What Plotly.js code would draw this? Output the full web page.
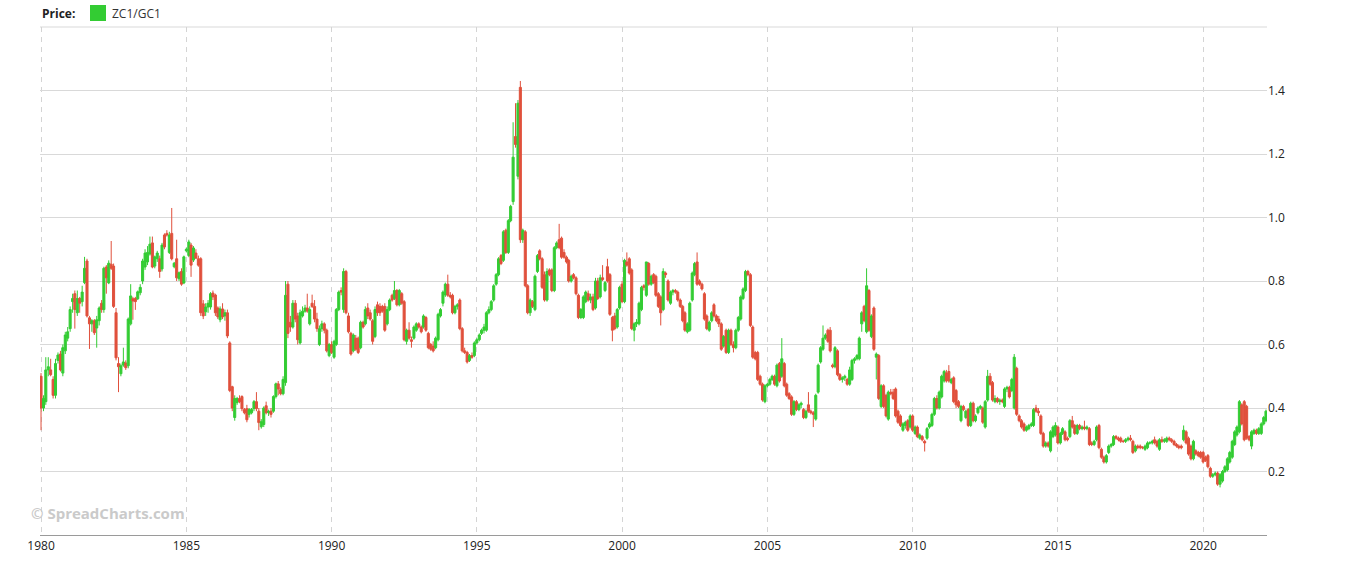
<!DOCTYPE html>
<html>
<head>
<meta charset="utf-8">
<script src="https://cdn.plot.ly/plotly-3.0.1.min.js"></script>
<style>
html,body{margin:0;padding:0;background:#fff;}
#chart{width:1350px;height:564px;}
</style>
</head>
<body>
<div id="chart"></div>
<script>
// Monthly candles of the ZC1/GC1 ratio, Jan 1980 .. Mar 2022 (one row per year)
const startYear = 1980;
const seriesName = "ZC1/GC1";
const xTickYears = [1980,1985,1990,1995,2000,2005,2010,2015,2020];
const yTicks = [0.2,0.4,0.6,0.8,1.0,1.2,1.4];

const open = [
.50,.40,.42,.52,.52,.49,.44,.55,.57,.51,.58,.62,
.65,.735,.76,.70,.745,.735,.795,.863,.684,.665,.675,.652,
.675,.73,.71,.844,.794,.853,.847,.70,.54,.508,.535,.542,
.533,.665,.744,.745,.744,.763,.80,.844,.86,.885,.92,.847,
.87,.87,.838,.945,.95,.89,.95,.845,.87,.807,.83,.794,
.895,.88,.913,.866,.888,.87,.87,.728,.703,.718,.718,.762,
.756,.715,.678,.712,.69,.70,.605,.467,.37,.417,.43,.436,
.395,.398,.38,.385,.398,.42,.39,.341,.348,.407,.385,.39,
.39,.436,.476,.458,.445,.48,.79,.67,.655,.73,.69,.605,
.69,.705,.715,.665,.73,.72,.68,.60,.65,.665,.645,.565,
.60,.56,.60,.71,.77,.71,.83,.69,.635,.58,.62,.62,
.59,.67,.665,.715,.70,.675,.625,.725,.72,.72,.72,.665,
.71,.755,.745,.77,.725,.76,.735,.61,.645,.615,.62,.645,
.665,.655,.655,.685,.635,.60,.595,.59,.615,.69,.73,.756,
.79,.755,.755,.70,.72,.74,.65,.58,.575,.55,.565,.565,
.605,.615,.635,.645,.645,.70,.71,.74,.79,.82,.88,.865,
.96,.89,.99,1.05,1.255,1.13,1.41,.93,.955,.785,.70,.735,
.71,.83,.895,.87,.82,.74,.835,.835,.77,.905,.93,.935,
.89,.875,.865,.80,.82,.81,.755,.685,.685,.735,.76,.74,
.75,.715,.80,.75,.81,.77,.845,.82,.685,.69,.655,.715,
.79,.735,.86,.87,.835,.645,.665,.665,.71,.785,.755,.855,
.79,.82,.815,.76,.75,.71,.825,.80,.73,.765,.77,.765,
.74,.72,.70,.64,.645,.74,.82,.86,.80,.79,.76,.69,
.645,.675,.725,.69,.68,.665,.595,.645,.575,.645,.60,.59,
.645,.68,.745,.77,.83,.82,.655,.575,.575,.50,.475,.42,
.47,.475,.49,.50,.47,.54,.50,.54,.475,.445,.435,.38,
.42,.395,.41,.395,.37,.41,.39,.385,.365,.45,.545,.585,
.62,.645,.645,.535,.53,.58,.505,.49,.495,.49,.475,.49,
.55,.555,.555,.665,.72,.64,.77,.625,.715,.56,.565,.405,
.47,.44,.365,.45,.45,.46,.39,.375,.33,.345,.36,.34,
.375,.32,.34,.305,.31,.295,.305,.34,.345,.38,.43,.40,
.435,.485,.51,.515,.48,.495,.455,.42,.36,.405,.37,.395,
.345,.415,.36,.385,.40,.40,.34,.425,.50,.48,.42,.43,
.42,.425,.405,.46,.465,.455,.40,.525,.375,.36,.35,.33,
.335,.345,.345,.40,.39,.375,.32,.28,.29,.265,.31,.315,
.34,.29,.32,.325,.305,.31,.36,.345,.32,.345,.335,.34,
.335,.335,.29,.285,.30,.345,.27,.245,.23,.26,.28,.285,
.31,.305,.305,.295,.295,.30,.305,.295,.265,.28,.28,.275,
.27,.275,.29,.29,.30,.295,.27,.30,.295,.295,.305,.30,
.295,.285,.28,.28,.30,.325,.305,.28,.24,.265,.26,.26,
.26,.245,.25,.21,.185,.19,.195,.16,.17,.20,.205,.23,
.245,.285,.315,.325,.41,.42,.405,.31,.28,.32,.33,.32,
.32,.35,.36
];

const high = [
.51,.44,.56,.56,.555,.50,.555,.575,.58,.60,.64,.655,
.72,.76,.77,.77,.75,.785,.876,.87,.69,.68,.68,.69,
.72,.74,.845,.85,.865,.926,.855,.715,.56,.54,.59,.55,
.685,.79,.75,.75,.77,.79,.87,.90,.91,.94,.94,.88,
.895,.88,.92,.95,.96,.955,1.03,.86,.93,.83,.84,.88,
.905,.93,.92,.91,.90,.88,.875,.74,.73,.74,.765,.77,
.76,.72,.72,.73,.71,.71,.61,.47,.44,.435,.44,.44,
.40,.41,.40,.40,.425,.45,.40,.365,.405,.42,.395,.40,
.44,.48,.485,.465,.50,.80,.80,.69,.74,.74,.70,.71,
.72,.725,.76,.72,.757,.74,.70,.66,.675,.67,.65,.605,
.61,.615,.715,.77,.78,.84,.835,.70,.64,.635,.63,.625,
.675,.675,.72,.73,.71,.68,.72,.735,.73,.725,.73,.72,
.745,.76,.80,.775,.775,.765,.74,.65,.67,.625,.66,.67,
.67,.66,.695,.69,.64,.605,.61,.625,.70,.715,.77,.795,
.82,.765,.76,.725,.73,.745,.655,.59,.58,.57,.575,.61,
.62,.635,.65,.665,.705,.72,.74,.79,.825,.875,.885,.96,
.965,.995,1.04,1.30,1.36,1.37,1.43,.965,.96,.79,.745,.74,
.82,.885,.90,.875,.83,.84,.84,.84,.91,.925,.98,.94,
.90,.88,.87,.82,.825,.815,.76,.715,.755,.77,.77,.76,
.76,.81,.81,.82,.85,.80,.87,.825,.69,.70,.715,.785,
.80,.87,.89,.875,.84,.67,.68,.735,.785,.79,.86,.86,
.82,.825,.82,.765,.755,.84,.83,.805,.77,.775,.775,.77,
.745,.725,.705,.67,.735,.83,.86,.89,.805,.795,.765,.695,
.675,.705,.73,.695,.69,.67,.63,.65,.65,.65,.61,.65,
.69,.755,.78,.835,.835,.825,.66,.58,.58,.505,.48,.475,
.48,.495,.505,.505,.54,.545,.62,.545,.48,.45,.44,.425,
.425,.415,.42,.40,.395,.45,.395,.39,.445,.54,.595,.66,
.635,.65,.655,.54,.595,.585,.51,.50,.505,.495,.53,.555,
.56,.57,.625,.705,.725,.84,.775,.695,.72,.575,.57,.475,
.475,.445,.455,.46,.46,.465,.395,.38,.355,.36,.365,.38,
.38,.345,.345,.32,.315,.30,.34,.355,.385,.435,.44,.455,
.505,.52,.52,.535,.495,.50,.46,.425,.41,.41,.395,.40,
.42,.42,.38,.405,.41,.405,.425,.52,.51,.485,.44,.435,
.43,.43,.465,.47,.47,.495,.57,.53,.38,.365,.355,.345,
.35,.355,.40,.41,.40,.38,.325,.295,.295,.33,.345,.355,
.345,.325,.34,.33,.31,.365,.375,.35,.35,.35,.345,.36,
.345,.34,.295,.30,.345,.35,.275,.25,.255,.285,.29,.315,
.315,.31,.31,.30,.305,.31,.315,.30,.285,.285,.285,.28,
.285,.295,.295,.30,.31,.30,.305,.31,.305,.31,.31,.305,
.30,.29,.285,.285,.345,.33,.31,.285,.30,.27,.265,.265,
.265,.25,.255,.215,.195,.20,.20,.195,.205,.22,.245,.265,
.30,.33,.345,.425,.415,.425,.41,.315,.33,.335,.335,.34,
.355,.375,.395
];

const low = [
.33,.39,.41,.50,.50,.43,.43,.54,.515,.50,.57,.61,
.64,.70,.65,.69,.70,.72,.79,.685,.586,.64,.63,.59,
.66,.70,.70,.76,.79,.835,.715,.55,.45,.50,.53,.52,
.525,.66,.678,.709,.74,.755,.79,.835,.85,.88,.84,.84,
.86,.81,.83,.90,.94,.885,.865,.84,.80,.80,.785,.79,
.89,.875,.813,.86,.87,.845,.69,.68,.69,.70,.71,.74,
.69,.68,.67,.68,.675,.62,.45,.39,.36,.41,.415,.39,
.38,.355,.37,.38,.39,.39,.33,.335,.34,.38,.375,.37,
.385,.43,.44,.44,.44,.47,.62,.64,.65,.67,.60,.60,
.685,.70,.70,.66,.715,.67,.64,.595,.64,.635,.575,.56,
.57,.555,.595,.705,.755,.70,.695,.635,.565,.575,.58,.57,
.585,.65,.66,.68,.675,.60,.62,.69,.69,.70,.64,.66,
.705,.735,.74,.72,.72,.725,.61,.60,.615,.59,.615,.64,
.65,.635,.65,.64,.585,.58,.575,.585,.61,.685,.72,.75,
.75,.745,.695,.695,.71,.645,.575,.57,.54,.545,.555,.56,
.60,.61,.63,.635,.64,.695,.705,.735,.785,.815,.85,.86,
.885,.885,.985,1.04,1.22,1.12,.92,.92,.78,.695,.69,.715,
.705,.825,.865,.775,.735,.735,.815,.765,.765,.90,.90,.87,
.87,.855,.795,.795,.805,.755,.68,.68,.68,.73,.735,.73,
.705,.71,.74,.745,.80,.765,.795,.69,.61,.645,.65,.71,
.73,.73,.845,.82,.645,.61,.655,.66,.705,.77,.75,.785,
.785,.79,.75,.715,.66,.705,.81,.735,.725,.755,.76,.735,
.715,.67,.64,.635,.64,.735,.815,.785,.785,.77,.675,.645,
.64,.67,.685,.67,.655,.58,.59,.57,.57,.595,.575,.585,
.64,.675,.74,.765,.815,.655,.555,.55,.485,.47,.42,.415,
.465,.47,.485,.47,.465,.48,.495,.465,.435,.425,.375,.375,
.39,.39,.40,.365,.365,.385,.38,.34,.36,.445,.54,.58,
.615,.605,.575,.525,.525,.50,.485,.48,.485,.47,.47,.485,
.54,.55,.55,.64,.67,.635,.64,.62,.58,.49,.425,.40,
.40,.37,.36,.44,.425,.37,.35,.34,.325,.335,.325,.335,
.325,.315,.305,.30,.295,.263,.30,.335,.34,.375,.395,.395,
.43,.48,.48,.48,.475,.415,.40,.40,.355,.39,.365,.34,
.34,.355,.355,.38,.395,.35,.335,.42,.47,.42,.415,.415,
.41,.415,.40,.45,.43,.45,.395,.375,.355,.335,.325,.325,
.33,.34,.34,.385,.375,.315,.275,.275,.275,.26,.305,.31,
.285,.285,.315,.295,.295,.305,.335,.315,.315,.33,.33,.33,
.33,.28,.28,.28,.295,.27,.24,.225,.225,.255,.275,.28,
.30,.295,.29,.29,.29,.295,.295,.255,.26,.27,.27,.27,
.265,.27,.285,.285,.285,.275,.265,.29,.29,.29,.295,.29,
.28,.275,.27,.27,.295,.285,.25,.235,.235,.25,.245,.24,
.225,.23,.21,.18,.18,.185,.155,.15,.165,.195,.20,.225,
.24,.28,.31,.32,.345,.295,.30,.295,.27,.315,.315,.315,
.315,.345,.355
];

const close = [
.40,.43,.52,.53,.505,.44,.54,.567,.52,.59,.63,.64,
.71,.745,.71,.745,.73,.765,.84,.69,.665,.675,.637,.678,
.715,.71,.84,.81,.856,.84,.72,.558,.53,.533,.545,.527,
.68,.753,.737,.735,.766,.78,.863,.888,.89,.916,.844,.876,
.888,.83,.913,.907,.945,.945,.87,.856,.81,.826,.79,.876,
.90,.923,.85,.904,.872,.85,.70,.69,.718,.73,.76,.75,
.70,.687,.712,.687,.70,.627,.455,.40,.43,.43,.42,.398,
.385,.363,.395,.395,.42,.398,.354,.357,.40,.385,.39,.38,
.436,.476,.46,.445,.49,.755,.635,.655,.73,.68,.615,.70,
.705,.715,.705,.71,.72,.68,.65,.65,.665,.645,.58,.60,
.575,.61,.71,.765,.765,.83,.70,.64,.57,.63,.585,.575,
.67,.655,.71,.69,.68,.61,.71,.70,.70,.705,.645,.71,
.74,.74,.77,.725,.77,.73,.615,.645,.62,.61,.655,.665,
.655,.64,.69,.645,.59,.585,.58,.62,.695,.71,.765,.79,
.755,.75,.70,.72,.725,.65,.58,.575,.545,.565,.56,.605,
.615,.63,.645,.655,.70,.71,.735,.785,.82,.87,.855,.955,
.89,.99,1.035,1.19,1.23,1.36,.93,.96,.785,.70,.74,.72,
.815,.88,.87,.78,.74,.83,.82,.77,.905,.92,.905,.875,
.875,.86,.80,.815,.81,.76,.685,.71,.75,.765,.74,.75,
.71,.80,.745,.81,.805,.795,.80,.695,.645,.65,.71,.78,
.735,.865,.85,.825,.65,.665,.67,.73,.78,.78,.86,.79,
.815,.795,.755,.72,.70,.83,.82,.74,.765,.77,.765,.74,
.72,.675,.645,.665,.73,.825,.855,.79,.79,.775,.68,.65,
.67,.70,.69,.675,.665,.585,.625,.575,.645,.60,.59,.645,
.685,.75,.775,.83,.82,.66,.56,.555,.49,.475,.425,.47,
.475,.49,.50,.475,.535,.485,.555,.47,.44,.43,.38,.42,
.395,.41,.415,.37,.39,.39,.385,.38,.44,.535,.59,.62,
.63,.61,.58,.53,.59,.505,.49,.495,.50,.475,.52,.55,
.555,.565,.62,.70,.675,.785,.645,.69,.585,.57,.43,.47,
.405,.375,.45,.445,.43,.375,.355,.345,.35,.355,.33,.375,
.33,.34,.31,.315,.30,.29,.335,.35,.38,.43,.40,.45,
.50,.515,.485,.485,.49,.42,.41,.405,.405,.395,.39,.345,
.415,.36,.375,.40,.405,.355,.42,.50,.475,.425,.43,.42,
.425,.42,.46,.465,.435,.49,.56,.38,.36,.34,.33,.34,
.345,.35,.395,.39,.385,.32,.28,.29,.28,.325,.34,.345,
.29,.32,.335,.30,.30,.36,.34,.32,.345,.335,.34,.335,
.34,.285,.285,.295,.34,.275,.245,.23,.25,.28,.285,.31,
.305,.30,.295,.295,.30,.305,.30,.26,.28,.275,.275,.275,
.28,.29,.29,.295,.29,.28,.30,.295,.30,.305,.30,.295,
.285,.28,.275,.275,.33,.29,.255,.24,.295,.255,.25,.245,
.23,.235,.215,.185,.19,.195,.16,.19,.20,.215,.24,.26,
.295,.325,.34,.42,.35,.30,.305,.30,.325,.33,.32,.335,
.35,.37,.39
];

const GREEN = "#33cc33";
const RED = "#e0503c";

// monthly dates built from the start year
const dates = close.map(function(_, i){
  const y = startYear + Math.floor(i / 12);
  const m = (i % 12) + 1;
  return y + "-" + (m < 10 ? "0" + m : m) + "-01";
});

const W = 1350, H = 564;
const M = {l:40, r:83, t:27, b:29};
const pw = W - M.l - M.r, ph = H - M.t - M.b;
function px(x){ return (x - M.l) / pw; }
function py(y){ return (H - M.b - y) / ph; }

const trace = {
  type: "candlestick",
  x: dates,
  open: open, high: high, low: low, close: close,
  increasing: {line: {color: GREEN, width: 1}, fillcolor: GREEN},
  decreasing: {line: {color: RED, width: 1}, fillcolor: RED},
  whiskerwidth: 0,
  hoverinfo: "none",
  showlegend: false,
  name: seriesName
};

const layout = {
  width: W, height: H,
  margin: M,
  paper_bgcolor: "#ffffff",
  plot_bgcolor: "#ffffff",
  font: {family: "'Open Sans', 'Noto Sans', sans-serif", size: 12, color: "#333"},
  showlegend: false,
  hovermode: false,
  boxgap: 0.08,
  boxgroupgap: 0,
  xaxis: {
    type: "date",
    range: ["1979-12-19", "2022-03-14"],
    tickvals: xTickYears.map(function(y){ return y + "-01-01"; }),
    ticktext: xTickYears.map(String),
    showgrid: true,
    gridcolor: "#d4d4d4",
    griddash: "5px,5px",
    gridwidth: 1,
    showline: true,
    linecolor: "#9a9a9a",
    linewidth: 1,
    ticks: "",
    zeroline: false,
    tickfont: {size: 12, color: "#222"},
    rangeslider: {visible: false},
    fixedrange: true
  },
  yaxis: {
    side: "right",
    range: [0, 1.6],
    tickvals: yTicks,
    ticktext: yTicks.map(function(v){ return v.toFixed(1); }),
    showgrid: true,
    gridcolor: "#d9d9d9",
    gridwidth: 1,
    zeroline: false,
    showline: false,
    ticks: "",
    tickfont: {size: 12, color: "#222"},
    fixedrange: true
  },
  shapes: [
    {type: "line", xref: "paper", yref: "paper", x0: 0, x1: 1, y0: 1, y1: 1,
     line: {color: "#d9d9d9", width: 1}, layer: "below"},
    {type: "rect", xref: "paper", yref: "paper",
     x0: px(90), x1: px(106), y0: py(21), y1: py(5),
     fillcolor: GREEN, line: {width: 0}}
  ],
  annotations: [
    {xref: "paper", yref: "paper", x: px(40), y: py(13), xanchor: "left", yanchor: "middle",
     text: "<b>Price:</b>", showarrow: false, font: {size: 12, color: "#222"}},
    {xref: "paper", yref: "paper", x: px(110), y: py(13), xanchor: "left", yanchor: "middle",
     text: seriesName, showarrow: false, font: {size: 12, color: "#333"}},
    {xref: "paper", yref: "paper", x: px(29), y: py(513), xanchor: "left", yanchor: "middle",
     text: "<b>© SpreadCharts.com</b>", showarrow: false, font: {size: 15, color: "#cacaca"}}
  ]
};

Plotly.newPlot("chart", [trace], layout, {displayModeBar: false, staticPlot: true});
</script>
</body>
</html>
